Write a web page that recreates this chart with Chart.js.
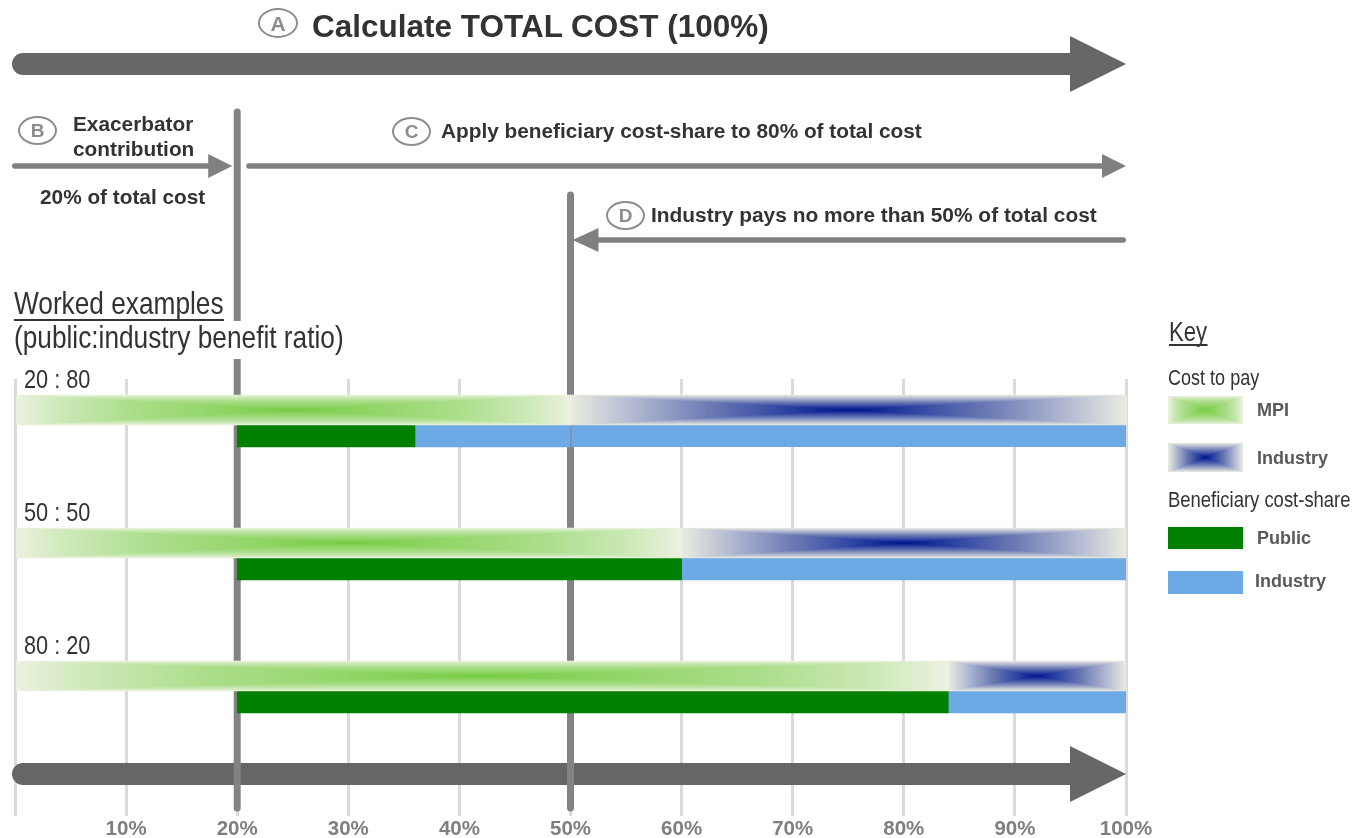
<!DOCTYPE html>
<html>
<head>
<meta charset="utf-8">
<title>Cost allocation steps and worked examples</title>
<script src="https://cdn.jsdelivr.net/npm/chart.js@4.4.1/dist/chart.umd.min.js"></script>
<style>
  html, body { margin: 0; padding: 0; background: #ffffff; }
  #wrap { position: relative; width: 1354px; height: 838px; overflow: hidden;
          font-family: 'Liberation Sans', Arial, sans-serif; }
  #chart { position: absolute; left: 0; top: 0; }
  .t { position: absolute; white-space: nowrap; line-height: 1; }
  .bold { font-weight: bold; color: #333333; }
  .narrow { color: #333333; transform: scaleX(0.82); transform-origin: 0 50%; }
  .ul { border-bottom: 2px solid #333333; }
  .badge { position: absolute; box-sizing: border-box; border: 2.5px solid #8c8c8c; border-radius: 50%;
           color: #8c8c8c; display: flex; align-items: center; justify-content: center; line-height: 1;
           font-weight: bold; }
  .key { font-weight: bold; color: #595959; font-size: 18px; }
  .sw { position: absolute; }
</style>
</head>
<body>
<div id="wrap">
  <canvas id="chart" width="1354" height="838"></canvas>
</div>
<script>
// ---- data -------------------------------------------------------------
const ratioLabels   = ['20 : 80', '50 : 50', '80 : 20'];   // public : industry benefit
const rowIds        = [1, 2, 3];
const mpiPays       = [[0, 50], [0, 60], [0, 84]];          // cost to pay, % of total
const industryPays  = [[50, 100], [60, 100], [84, 100]];
const publicShare   = [[20, 36], [20, 60], [20, 84]];       // beneficiary cost-share
const industryShare = [[[36, 50], [50, 100]], [[60, 100]], [[84, 100]]];
const tickLabels    = ['', '10%', '20%', '30%', '40%', '50%', '60%', '70%', '80%', '90%', '100%'];
const dividers      = [20, 50];
const steps = [
  { key: 'A', text: 'Calculate TOTAL COST (100%)', from: 0, to: 100 },
  { key: 'B', text: 'Exacerbator contribution', from: 0, to: 20 },
  { key: 'C', text: 'Apply beneficiary cost-share to 80% of total cost', from: 20, to: 100 },
  { key: 'D', text: 'Industry pays no more than 50% of total cost', from: 100, to: 50 }
];
const exacerbatorNote = '20% of total cost';

// ---- colours ----------------------------------------------------------
const GREEN_RAMP = [[0, [118, 203, 68]], [0.3, [148, 214, 106]], [0.6, [172, 222, 140]], [0.85, [206, 233, 186]], [1, [237, 241, 225]]];
const BLUE_RAMP  = [[0, [0, 18, 140]], [0.2, [40, 62, 160]], [0.5, [108, 122, 180]], [0.8, [184, 190, 211]], [1, [234, 236, 224]]];
const PUBLIC_GREEN = '#008000';
const INDUSTRY_BLUE = '#6ca9e5';

function buildLut(stops) {
  const lut = [];
  for (let k = 0; k < 256; k++) {
    const t = k / 255;
    let i = 0;
    while (i < stops.length - 2 && t > stops[i + 1][0]) i++;
    const [t0, c0] = stops[i], [t1, c1] = stops[i + 1];
    const f = Math.min(1, Math.max(0, (t - t0) / (t1 - t0)));
    lut.push([0, 1, 2].map(j => Math.round(c0[j] + (c1[j] - c0[j]) * f)));
  }
  return lut;
}

// rectangular "from centre" gradient: concentric rectangles fading to the edge
function paintRectGradient(ctx, left, top, w, h, ramp) {
  const W = Math.max(1, Math.round(w)), H = Math.max(1, Math.round(h));
  const off = document.createElement('canvas');
  off.width = W; off.height = H;
  const octx = off.getContext('2d');
  const img = octx.createImageData(W, H);
  const lut = buildLut(ramp);
  for (let j = 0; j < H; j++) {
    const v = Math.abs(j + 0.5 - H / 2) / (H / 2);
    for (let i = 0; i < W; i++) {
      const u = Math.abs(i + 0.5 - W / 2) / (W / 2);
      const c = lut[Math.min(255, Math.floor(Math.max(u, v) * 255))];
      const p = (j * W + i) * 4;
      img.data[p] = c[0]; img.data[p + 1] = c[1]; img.data[p + 2] = c[2]; img.data[p + 3] = 255;
    }
  }
  octx.putImageData(img, 0, 0);
  ctx.drawImage(off, Math.round(left), Math.round(top));
}

function drawArrow(ctx, tailX, tipX, y, shaft, headLen, headHalf, color) {
  const dir = tipX >= tailX ? 1 : -1;
  const L = Math.abs(tipX - tailX), r = shaft / 2;
  ctx.save();
  ctx.translate(tailX, y);
  ctx.scale(dir, 1);
  ctx.beginPath();
  ctx.moveTo(r, -r);
  ctx.lineTo(L - headLen, -r);
  ctx.lineTo(L - headLen, -headHalf);
  ctx.lineTo(L, 0);
  ctx.lineTo(L - headLen, headHalf);
  ctx.lineTo(L - headLen, r);
  ctx.lineTo(r, r);
  ctx.arc(r, 0, r, Math.PI / 2, Math.PI * 1.5);
  ctx.closePath();
  ctx.fillStyle = color;
  ctx.fill();
  ctx.restore();
}

// arrow geometry for each step (pixels relative to the x scale)
const arrowStyle = {
  A: { y: 64,  shaft: 22,  head: 56, half: 28, tailPad: -3, tipPad: 0,  color: '#666666' },
  B: { y: 166, shaft: 5.5, head: 24, half: 12, tailPad: -3, tipPad: -5, color: '#808080' },
  C: { y: 166, shaft: 5.5, head: 24, half: 12, tailPad: 9,  tipPad: 0,  color: '#808080' },
  D: { y: 240, shaft: 5.5, head: 26, half: 12, tailPad: 0,  tipPad: 2,  color: '#808080' }
};
const dividerTop = [112, 195];
const dividerBottom = 808;
const bottomArrowY = 774;

const stepsPlugin = {
  id: 'costSteps',
  beforeDatasetsDraw(chart) {
    const ctx = chart.ctx;
    const px = v => chart.scales.x.getPixelForValue(v);
    const a = arrowStyle.A, total = steps[0];
    // repeated total-cost arrow along the foot of the chart
    drawArrow(ctx, px(total.from) + a.tailPad, px(total.to) + a.tipPad, bottomArrowY, a.shaft, a.head, a.half, a.color);
    ctx.save();
    ctx.strokeStyle = '#838383';
    ctx.lineWidth = 7;
    ctx.lineCap = 'round';
    dividers.forEach((v, i) => {
      ctx.beginPath();
      ctx.moveTo(px(v), dividerTop[i]);
      ctx.lineTo(px(v), dividerBottom);
      ctx.stroke();
    });
    ctx.restore();
    steps.forEach(s => {
      const st = arrowStyle[s.key];
      drawArrow(ctx, px(s.from) + st.tailPad, px(s.to) + st.tipPad, st.y, st.shaft, st.head, st.half, st.color);
    });
  },
  afterDatasetDraw(chart, args) {
    const ds = chart.data.datasets[args.index];
    if (!ds.rectGradient) return;
    const ctx = chart.ctx;
    args.meta.data.forEach(el => {
      const p = el.getProps(['x', 'y', 'base', 'height'], true);
      const left = Math.min(p.x, p.base), w = Math.abs(p.x - p.base);
      paintRectGradient(ctx, left, p.y - p.height / 2, w, p.height, ds.rectGradient);
    });
  }
};

const rows = (ranges) => rowIds.map((y, i) => ({ y, x: ranges[i] }));

new Chart(document.getElementById('chart'), {
  type: 'bar',
  data: {
    datasets: [
      { label: 'MPI', stack: 'cost', data: rows(mpiPays), backgroundColor: '#eef1e2',
        barThickness: 30, rectGradient: GREEN_RAMP },
      { label: 'Industry', stack: 'cost', data: rows(industryPays), backgroundColor: '#eaece0',
        barThickness: 30, rectGradient: BLUE_RAMP },
      { label: 'Public', stack: 'share', data: rows(publicShare), backgroundColor: PUBLIC_GREEN,
        barThickness: 22 },
      { label: 'Industry', stack: 'share',
        data: industryShare.flatMap((segs, i) => segs.map((s, k) => ({ y: rowIds[i], x: s, capped: k > 0 }))),
        backgroundColor: INDUSTRY_BLUE, barThickness: 22, borderSkipped: false,
        borderColor: '#7f8fa6',
        borderWidth: c => (c.raw && c.raw.capped) ? { left: 1.5, right: 0, top: 0, bottom: 0 } : 0 }
    ]
  },
  options: {
    indexAxis: 'y',
    responsive: false,
    animation: false,
    events: [],
    layout: { padding: { left: 15, right: 228, top: 379, bottom: 0 } },
    plugins: { legend: { display: false }, tooltip: { enabled: false }, title: { display: false } },
    scales: {
      x: {
        type: 'linear', min: 0, max: 100, stacked: false,
        afterFit: s => { s.height = 22; },
        border: { display: false },
        grid: { color: '#dadada', lineWidth: 3, drawTicks: false },
        ticks: {
          stepSize: 10, autoSkip: false, maxRotation: 0, padding: 1,
          color: '#7f7f7f',
          font: { family: "'Liberation Sans', Arial, sans-serif", size: 20.5, weight: 'bold' },
          callback: (v, i) => tickLabels[i]
        }
      },
      y: { type: 'linear', display: false, reverse: true, offset: false, min: 0.654, max: 3.94 }
    }
  },
  plugins: [stepsPlugin]
});

// ---- text overlays and key -------------------------------------------
const wrap = document.getElementById('wrap');
function addText(text, cls, left, capY, size, extra) {
  const d = document.createElement('div');
  d.className = 't ' + cls;
  d.textContent = text;
  d.style.left = left + 'px';
  d.style.top = (capY - size / 2) + 'px';
  d.style.fontSize = size + 'px';
  if (extra) Object.assign(d.style, extra);
  wrap.appendChild(d);
  return d;
}
function addBadge(letter, left, top, w, h, size) {
  const d = document.createElement('div');
  d.className = 'badge';
  d.textContent = letter;
  Object.assign(d.style, { left: left + 'px', top: top + 'px', width: w + 'px', height: h + 'px', fontSize: size + 'px' });
  wrap.appendChild(d);
}

addBadge(steps[0].key, 258, 8, 40, 30, 21);
addText(steps[0].text, 'bold', 312, 27, 31.5);
addBadge(steps[1].key, 18, 116, 39, 29, 19);
const exLines = steps[1].text.split(' ');
addText(exLines[0], 'bold', 73, 124, 20.8);
addText(exLines[1], 'bold', 73, 149, 20.8);
addText(exacerbatorNote, 'bold', 40, 197, 20.8);
addBadge(steps[2].key, 392, 117, 39, 29, 19);
addText(steps[2].text, 'bold', 441, 131, 20.8);
addBadge(steps[3].key, 606, 201, 39, 29, 19);
addText(steps[3].text, 'bold', 651, 215, 20.9);

addText('Worked examples', 'narrow ul', 14, 303, 32);
addText('(public:industry benefit ratio)', 'narrow', 14, 337, 32,
        { background: '#ffffff', padding: '0 4px 6px 0', top: (337 - 16) + 'px' });
const rowLabelY = [379, 512, 645];
ratioLabels.forEach((lab, i) => addText(lab, 'narrow', 24, rowLabelY[i], 26.5));

// key
addText('Key', 'narrow ul', 1169, 333, 27, { lineHeight: '0.9' });
addText('Cost to pay', 'narrow', 1168, 378, 22);
addText('Beneficiary cost-share', 'narrow', 1168, 500, 22.5);
function gradientSwatch(left, top, w, h, ramp) {
  const c = document.createElement('canvas');
  c.width = w; c.height = h; c.className = 'sw';
  c.style.left = left + 'px'; c.style.top = top + 'px';
  paintRectGradient(c.getContext('2d'), 0, 0, w, h, ramp);
  wrap.appendChild(c);
}
function solidSwatch(left, top, w, h, color) {
  const d = document.createElement('div');
  d.className = 'sw';
  Object.assign(d.style, { left: left + 'px', top: top + 'px', width: w + 'px', height: h + 'px', background: color });
  wrap.appendChild(d);
}
gradientSwatch(1168, 396, 75, 28, GREEN_RAMP);
addText('MPI', 'key', 1257, 410, 18);
gradientSwatch(1168, 443, 75, 29, BLUE_RAMP);
addText('Industry', 'key', 1257, 458, 18);
solidSwatch(1168, 527, 75, 22, PUBLIC_GREEN);
addText('Public', 'key', 1257, 538, 18);
solidSwatch(1168, 571, 75, 23, INDUSTRY_BLUE);
addText('Industry', 'key', 1255, 581, 18);
</script>
</body>
</html>
